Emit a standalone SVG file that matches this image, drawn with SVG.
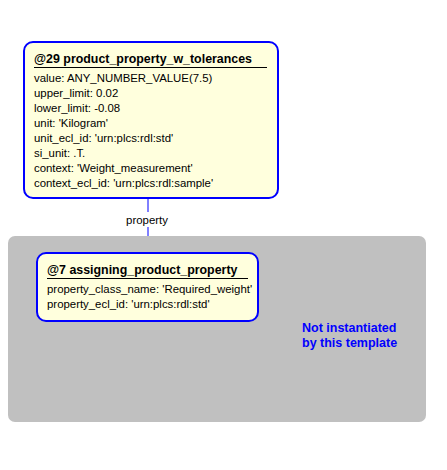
<svg xmlns="http://www.w3.org/2000/svg" width="447" height="470" viewBox="0 0 447 470">
<style>
.node{fill:#ffffdd;stroke:#0000ff;stroke-width:2}
.t{font-family:"Liberation Sans",Arial,sans-serif;font-size:11.4px;fill:#000}
.b{font-family:"Liberation Sans",Arial,sans-serif;font-size:12.4px;font-weight:bold;fill:#000}
.ul{stroke:#000;stroke-width:1}
.conn{stroke:#0000ff;stroke-width:1;fill:none}
.note{font-family:"Liberation Sans",Arial,sans-serif;font-size:12.5px;font-weight:bold;fill:#0000ff}
</style>
<rect x="0" y="0" width="447" height="470" fill="#ffffff"/>
<g id="region">
<rect x="8" y="236" width="418" height="186" rx="7" fill="#c0c0c0"/>
<text class="note" x="302" y="332">Not instantiated</text>
<text class="note" x="302" y="347">by this template</text>
</g>
<g id="connectors">
<line class="conn" x1="148" y1="198" x2="148" y2="212"/>
<line class="conn" x1="148" y1="227" x2="148" y2="236"/>
<text class="t" x="147" y="224" text-anchor="middle">property</text>
</g>
<g id="node29">
<rect class="node" x="24" y="42" width="254" height="156" rx="9"/>
<text class="b" x="34" y="63">@29 product_property_w_tolerances</text>
<line class="ul" x1="34" y1="67.5" x2="267" y2="67.5"/>
<text class="t" x="34" y="82">value: ANY_NUMBER_VALUE(7.5)</text>
<text class="t" x="34" y="97">upper_limit: 0.02</text>
<text class="t" x="34" y="112">lower_limit: -0.08</text>
<text class="t" x="34" y="127">unit: 'Kilogram'</text>
<text class="t" x="34" y="142">unit_ecl_id: 'urn:plcs:rdl:std'</text>
<text class="t" x="34" y="157">si_unit: .T.</text>
<text class="t" x="34" y="172">context: 'Weight_measurement'</text>
<text class="t" x="34" y="187">context_ecl_id: 'urn:plcs:rdl:sample'</text>
</g>
<g id="node7">
<rect class="node" x="37" y="253" width="221" height="68" rx="9"/>
<text class="b" x="47" y="274">@7 assigning_product_property</text>
<line class="ul" x1="47" y1="278.5" x2="248" y2="278.5"/>
<text class="t" x="47" y="293">property_class_name: 'Required_weight'</text>
<text class="t" x="47" y="308">property_ecl_id: 'urn:plcs:rdl:std'</text>
</g>
</svg>
